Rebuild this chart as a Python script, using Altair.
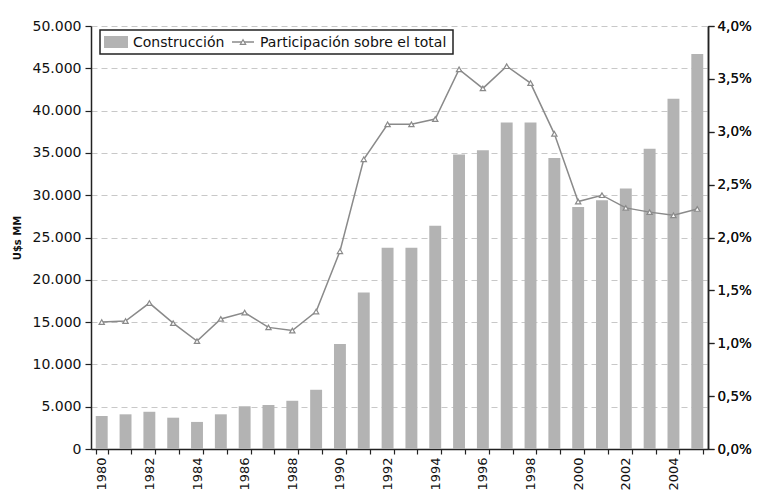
import altair as alt
import pandas as pd

years = list(range(1980, 2006))
construccion = [3900, 4100, 4400, 3700, 3200, 4100, 5050, 5200, 5700, 7000,
                12400, 18500, 23800, 23800, 26400, 34800, 35300, 38600, 38600,
                34400, 28600, 29400, 30800, 35500, 41400, 46700]
participacion = [1.20, 1.21, 1.38, 1.19, 1.02, 1.23, 1.29, 1.15, 1.12, 1.30,
                 1.87, 2.74, 3.07, 3.07, 3.12, 3.59, 3.41, 3.62, 3.46, 2.98,
                 2.34, 2.40, 2.28, 2.24, 2.21, 2.27]
legend_labels = ["Construcción", "Participación sobre el total"]
y_title = "U$s MM"

df = pd.DataFrame({"year": years, "construccion": construccion, "participacion": participacion})
FONT = "DejaVu Sans"
BAR = "#b3b3b3"
LINE = "#8a8a8a"

x = alt.X("year:O",
          scale=alt.Scale(paddingInner=0.5, paddingOuter=0.2),
          axis=alt.Axis(title=None, labelAngle=270,
                        labelExpr="datum.value % 2 == 0 ? datum.label : ''",
                        tickBand="extent", domainColor="#222", domainWidth=1.5,
                        tickColor="#222", tickWidth=1.2, tickSize=5,
                        labelPadding=3, labelColor="#111", labelFontSize=13,
                        labelFont=FONT, grid=False))

bars = alt.Chart(df).mark_bar(color=BAR).encode(
    x=x,
    y=alt.Y("construccion:Q",
            scale=alt.Scale(domain=[0, 50000], nice=False),
            axis=alt.Axis(title=y_title, values=list(range(0, 50001, 5000)),
                          labelExpr="replace(format(datum.value, ',d'), ',', '.')",
                          titleFont=FONT, titleFontSize=10, titleFontWeight="bold",
                          titleColor="#111", titlePadding=10,
                          labelFont=FONT, labelFontSize=14, labelColor="#111",
                          labelPadding=4, tickSize=6, tickColor="#222", tickWidth=1.2,
                          domainColor="#222", domainWidth=1.5,
                          grid=True, gridColor="#c8c8c8", gridDash=[6, 4], gridWidth=1)),
)

yr = alt.Y("participacion:Q",
           scale=alt.Scale(domain=[0, 4], nice=False),
           axis=alt.Axis(title=None, orient="right", values=[0, 0.5, 1, 1.5, 2, 2.5, 3, 3.5, 4],
                         labelExpr="replace(format(datum.value, '.1f'), '.', ',') + '%'",
                         labelFont=FONT, labelFontSize=13.5, labelColor="#111",
                         labelPadding=3, tickSize=6, tickColor="#222", tickWidth=1.2,
                         domainColor="#222", domainWidth=1.5, grid=False))

line = alt.Chart(df).mark_line(color=LINE, strokeWidth=1.5).encode(x=x, y=yr)
pts = alt.Chart(df).mark_point(shape="triangle-up", size=28, filled=True, fill="white",
                               stroke=LINE, strokeWidth=1.2, opacity=1).encode(x=x, y=yr)

one = pd.DataFrame({"a": [0]})
box = alt.Chart(one).mark_rect(fill="white", stroke="#222", strokeWidth=1.5).encode(
    x=alt.value(9), x2=alt.value(362), y=alt.value(4), y2=alt.value(28))
sw = alt.Chart(one).mark_rect(fill=BAR).encode(
    x=alt.value(13), x2=alt.value(37), y=alt.value(10), y2=alt.value(22))
t1 = alt.Chart(one).mark_text(text=legend_labels[0], align="left", baseline="middle",
                              font=FONT, fontSize=14, color="#111").encode(
    x=alt.value(42), y=alt.value(16.5))
lr = alt.Chart(one).mark_rule(color=LINE, strokeWidth=1.5).encode(
    x=alt.value(141), x2=alt.value(163), y=alt.value(16))
lp = alt.Chart(one).mark_point(shape="triangle-up", size=28, filled=True, fill="white",
                               stroke=LINE, strokeWidth=1.2, opacity=1).encode(
    x=alt.value(152), y=alt.value(16))
t2 = alt.Chart(one).mark_text(text=legend_labels[1], align="left", baseline="middle",
                              font=FONT, fontSize=14, color="#111").encode(
    x=alt.value(169), y=alt.value(16.5))

chart = alt.layer(bars, line, pts, box, sw, t1, lr, lp, t2).resolve_scale(
    y="independent"
).properties(
    width=617, height=423,
    autosize=alt.AutoSizeParams(type="none"),
    padding={"left": 83, "top": 18, "right": 44, "bottom": 46},
    background="white",
).configure_view(stroke="transparent")

chart.save("out.html", embed_options={"renderer": "svg", "actions": False})
